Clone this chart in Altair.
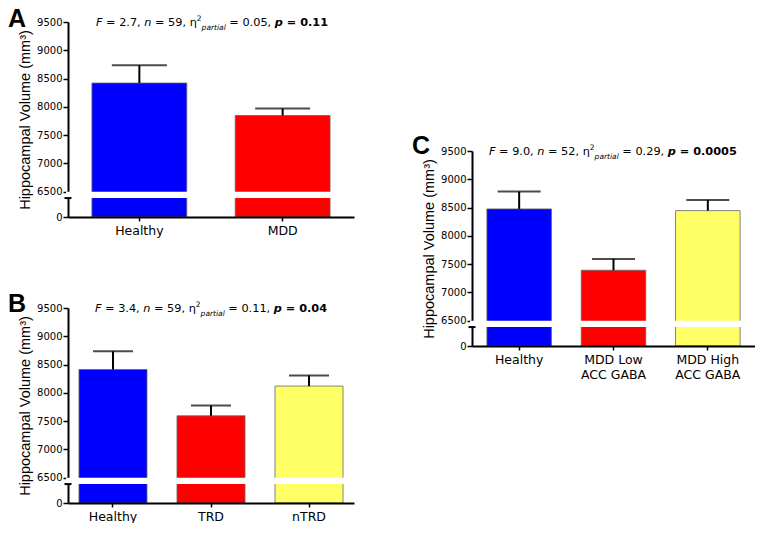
import altair as alt
import pandas as pd

# ---------------- data ----------------
A_groups = ["Healthy", "MDD"]
A_means = [8420, 7845]
A_sems = [315, 125]

B_groups = ["Healthy", "TRD", "nTRD"]
B_means = [8412, 7593, 8119]
B_sems = [321, 181, 188]

C_groups = ["Healthy", "MDD Low\nACC GABA", "MDD High\nACC GABA"]
C_means = [8475, 7390, 8445]
C_sems = [308, 201, 190]

A_stats = [("F", "i"), (" = 2.7, ", "n"), ("n", "i"), (" = 59, η", "n"), ("2", "sup"),
           ("partial", "sub"), (" = 0.05, ", "n"), ("p", "bi"), (" = 0.11", "b")]
B_stats = [("F", "i"), (" = 3.4, ", "n"), ("n", "i"), (" = 59, η", "n"), ("2", "sup"),
           ("partial", "sub"), (" = 0.11, ", "n"), ("p", "bi"), (" = 0.04", "b")]
C_stats = [("F", "i"), (" = 9.0, ", "n"), ("n", "i"), (" = 52, η", "n"), ("2", "sup"),
           ("partial", "sub"), (" = 0.29, ", "n"), ("p", "bi"), (" = 0.0005", "b")]

COLORS = ["#0000FF", "#FF0000", "#FFFF66"]
Y_TICKS = [6050, 6500, 7000, 7500, 8000, 8500, 9000, 9500]

# ---------------- layout constants ----------------
H = 195
Y_LO, Y_HI = 6050, 9500
GAP_LO, GAP_HI = 6385, 6495
ONE = pd.DataFrame({"k": [0]})

REG = {' ': 0.318, ',': 0.318, '.': 0.318, '=': 0.838, 'F': 0.575, 'n': 0.634, 'p': 0.635,
       'a': 0.613, 'r': 0.411, 't': 0.392, 'i': 0.278, 'l': 0.278, 'η': 0.634}
BOLD = {' ': 0.348, ',': 0.380, '.': 0.380, '=': 0.838, 'p': 0.716}


def text_width(s, size, bold=False):
    tbl = BOLD if bold else REG
    dig = 0.696 if bold else 0.636
    return sum((dig if ch.isdigit() else tbl.get(ch, 0.6)) for ch in s) * size


def stats_layers(parts, x0, y0, fs=11.3):
    layers = []
    x = x0
    for text, kind in parts:
        size, style, weight, dy = fs, "normal", "normal", 0
        if kind == "i":
            style = "italic"
        elif kind == "b":
            weight = "bold"
        elif kind == "bi":
            weight, style = "bold", "italic"
        elif kind == "sup":
            size, dy = 7.5, -5
        elif kind == "sub":
            size, style, dy = 7.5, "italic", 3.5
        bold = weight == "bold"
        lead = len(text) - len(text.lstrip(" "))
        xr = x + text_width(text[:lead], size, bold)
        layers.append(
            alt.Chart(ONE).mark_text(align="left", baseline="alphabetic", font="DejaVu Sans",
                                     fontSize=size, fontStyle=style, fontWeight=weight,
                                     color="black")
            .encode(x=alt.value(xr), y=alt.value(y0 + dy), text=alt.value(text.strip(" ")))
        )
        x += text_width(text, size, bold)
    return layers


def panel(groups, means, sems, letter, stats, stats_x, pi, po, cap, W=286, let_y=5):
    df = pd.DataFrame({
        "group": groups,
        "mean": means,
        "hi": [m + s for m, s in zip(means, sems)],
        "lo": [Y_LO] * len(groups),
        "fill": COLORS[:len(groups)],
    })
    xscale = alt.Scale(paddingInner=pi, paddingOuter=po)
    x = alt.X("group:N", sort=groups, scale=xscale,
              axis=alt.Axis(title=None, labelAngle=0, labelExpr="split(datum.label, '\\n')",
                            labelFont="DejaVu Sans", labelFontSize=12.5, labelColor="black",
                            labelLineHeight=15, domainColor="black", domainWidth=2,
                            tickColor="black", tickWidth=1.5, tickSize=4, labelPadding=3,
                            zindex=1))
    y = alt.Y("mean:Q", scale=alt.Scale(domain=[Y_LO, Y_HI], zero=False, nice=False),
              axis=alt.Axis(values=Y_TICKS, tickCount=len(Y_TICKS) + 4, format="d",
                            labelOverlap=False,
                            labelExpr="datum.value < 6400 ? '0' : datum.label",
                            title="Hippocampal Volume (mm³)", titleFont="Liberation Sans",
                            titleFontSize=14.5, titleFontWeight="normal", titleColor="black",
                            titlePadding=4, labelFont="DejaVu Sans", labelFontSize=10,
                            labelColor="black", labelPadding=1, grid=False,
                            domainColor="black", domainWidth=2, tickColor="black",
                            tickWidth=1.5, tickSize=5))
    base = alt.Chart(df)
    bars = base.mark_bar(stroke="#666666", strokeWidth=0.8).encode(
        x=x, y=y, y2="lo:Q", color=alt.Color("fill:N", scale=None, legend=None))
    gap = alt.Chart(ONE).mark_rect(color="white").encode(
        x=alt.value(-2), x2=alt.value(W), y=alt.datum(GAP_LO), y2=alt.datum(GAP_HI))
    stems = base.mark_rule(color="black", strokeWidth=2).encode(
        x=alt.X("group:N", sort=groups), y="mean:Q", y2="hi:Q")
    caps = base.mark_tick(color="black", thickness=2, size=cap).encode(
        x=alt.X("group:N", sort=groups), y="hi:Q")
    brk = alt.Chart(ONE).mark_rule(color="black", strokeWidth=2).encode(
        x=alt.value(-3.5), x2=alt.value(3.5), y=alt.datum(GAP_LO))
    let = alt.Chart(ONE).mark_text(align="left", baseline="alphabetic", font="Liberation Sans",
                                   fontSize=25, fontWeight="bold", color="black").encode(
        x=alt.value(-60), y=alt.value(let_y), text=alt.value(letter))
    layers = [bars, gap, stems, caps, brk, let] + stats_layers(stats, stats_x, 4)
    return alt.layer(*layers).properties(width=W, height=H)


pA = panel(A_groups, A_means, A_sems, "A", A_stats, 28, 0.338, 0.167, 55)
pB = panel(B_groups, B_means, B_sems, "B", B_stats, 27, 0.306, 0.112, 40, let_y=4)
pC = panel(C_groups, C_means, C_sems, "C", C_stats, 17, 0.316, 0.158, 43, W=283, let_y=3)

spacer = alt.Chart(ONE).mark_point(opacity=0, size=1).encode(
    x=alt.value(0), y=alt.value(0)).properties(width=1, height=1)

left = alt.vconcat(pA, pB, spacing=55)
right = alt.vconcat(spacer, pC, spacing=111)

chart = alt.hconcat(left, right, spacing=58).properties(
    padding={"left": 0, "top": -1, "right": 0, "bottom": 0}
).configure_view(stroke=None)

chart.save("out.html", embed_options={"renderer": "svg", "actions": False})
